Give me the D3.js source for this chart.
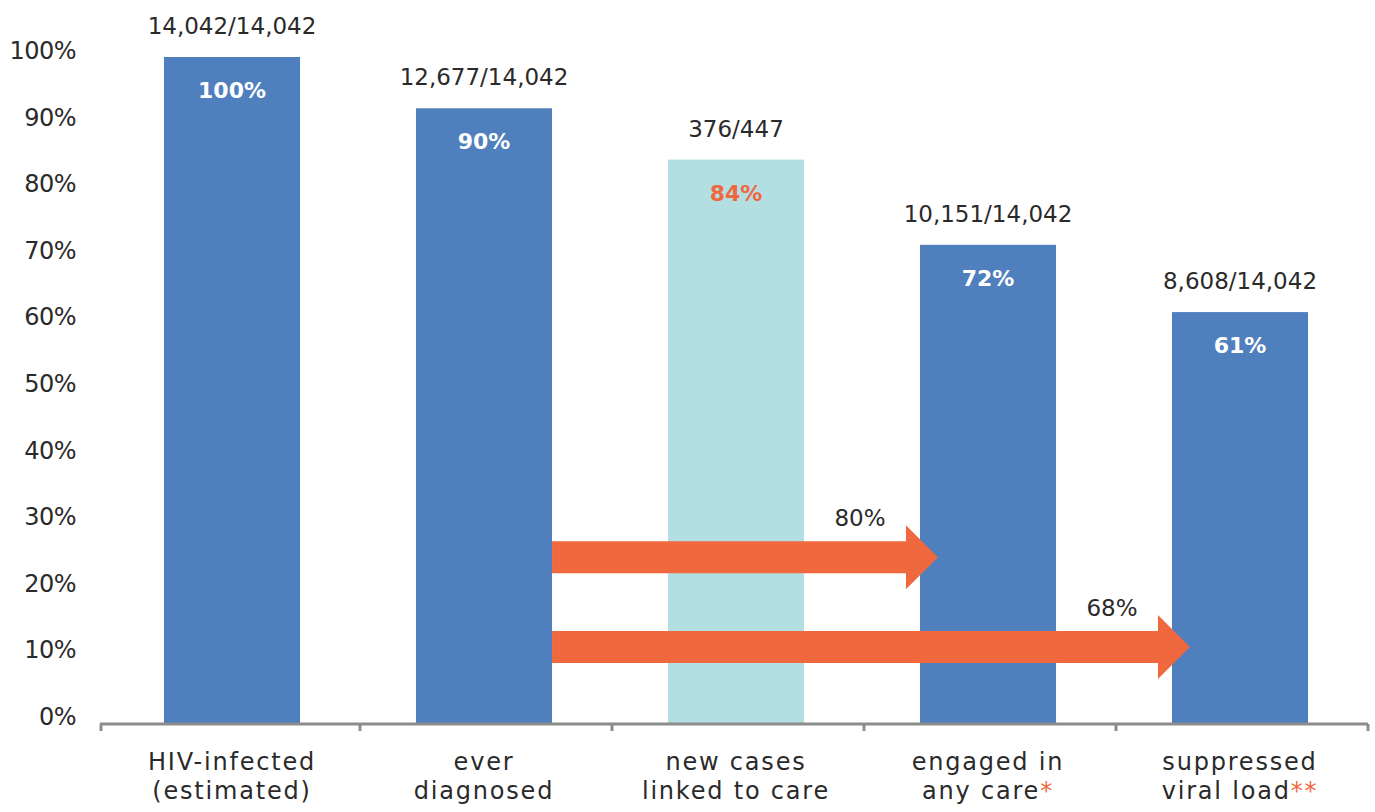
<!DOCTYPE html>
<html>
<head>
<meta charset="utf-8">
<script src="https://cdn.jsdelivr.net/npm/d3@7"></script>
<style>
  body { margin: 0; background: #fff; }
  svg text { font-family: "DejaVu Sans", sans-serif; }
</style>
</head>
<body>
<svg width="1375" height="812"></svg>
<script>
// categories, two lines each + optional orange asterisk
const categories = ['HIV-infected', 'ever', 'new cases', 'engaged in', 'suppressed'];
const secondLines = ['(estimated)', 'diagnosed', 'linked to care', 'any care', 'viral load'];
const stars = ['', '', '', '*', '**'];
// bar heights as drawn (percent)
const barValues = [100, 92.3, 84.6, 71.8, 61.7];
const pctLabels = ['100%', '90%', '84%', '72%', '61%'];
const countLabels = ['14,042/14,042', '12,677/14,042', '376/447', '10,151/14,042', '8,608/14,042'];
const highlight = [false, false, true, false, false];
const yTicks = [0, 10, 20, 30, 40, 50, 60, 70, 80, 90, 100];
// arrows from "ever diagnosed" to later steps
const arrowTargets = [3, 4];
const arrowLevels = [24.9, 11.4];
const arrowLabels = ['80%', '68%'];

const blue = '#4f80bd', lightBlue = '#b3dfe3', orange = '#f0683e';
const textCol = '#2a2a2a';

const svg = d3.select('svg');

const x = d3.scaleBand()
    .domain(d3.range(categories.length))
    .range([106, 1366])
    .paddingInner(0.46)
    .paddingOuter(0.23);

const y = d3.scaleLinear().domain([0, 100]).range([723, 57]);

// y tick labels (no axis line in the original)
svg.append('g')
  .selectAll('text')
  .data(yTicks)
  .enter()
  .append('text')
    .attr('x', 76)
    .attr('y', d => y(d) + 2)
    .attr('text-anchor', 'end')
    .style('font-size', '24px')
    .style('letter-spacing', '-0.5px')
    .style('fill', textCol)
    .text(d => d + '%');

// bars
svg.append('g')
  .selectAll('rect')
  .data(barValues)
  .enter()
  .append('rect')
    .attr('x', (d, i) => x(i))
    .attr('y', d => y(d))
    .attr('width', x.bandwidth())
    .attr('height', d => y(0) - y(d))
    .attr('fill', (d, i) => highlight[i] ? lightBlue : blue);

// count labels above bars
svg.append('g')
  .selectAll('text')
  .data(countLabels)
  .enter()
  .append('text')
    .attr('x', (d, i) => x(i) + x.bandwidth() / 2)
    .attr('y', (d, i) => y(barValues[i]) - 23)
    .attr('text-anchor', 'middle')
    .style('font-size', '23px')
    .style('fill', textCol)
    .text(d => d);

// percent labels inside bars
svg.append('g')
  .selectAll('text')
  .data(pctLabels)
  .enter()
  .append('text')
    .attr('x', (d, i) => x(i) + x.bandwidth() / 2)
    .attr('y', (d, i) => y(barValues[i]) + 41)
    .attr('text-anchor', 'middle')
    .style('font-size', '22px')
    .style('font-weight', 'bold')
    .style('fill', (d, i) => highlight[i] ? orange : '#fff')
    .text(d => d);

// x axis line with tick marks at band edges
const axis = svg.append('g').attr('class', 'x-axis');
axis.append('line')
    .attr('x1', 100).attr('x2', 1368)
    .attr('y1', 724).attr('y2', 724)
    .attr('stroke', '#8c8c8c')
    .attr('stroke-width', 3);
const step = x.step();
const edges = d3.range(categories.length + 1).map(i => i == 0 ? 101 : 106 + i * step + 2);
axis.selectAll('.tick')
  .data(edges)
  .enter()
  .append('line')
    .attr('x1', d => d).attr('x2', d => d)
    .attr('y1', 724).attr('y2', 731)
    .attr('stroke', '#8c8c8c')
    .attr('stroke-width', 3);

// category labels
const cat = svg.append('g')
  .selectAll('text')
  .data(categories)
  .enter()
  .append('text')
    .attr('text-anchor', 'middle')
    .style('font-size', '24px')
    .style('letter-spacing', '1.8px')
    .style('fill', textCol);
cat.append('tspan')
    .attr('x', (d, i) => x(i) + x.bandwidth() / 2)
    .attr('y', 770)
    .text(d => d);
cat.append('tspan')
    .attr('x', (d, i) => x(i) + x.bandwidth() / 2)
    .attr('y', 799)
    .text((d, i) => secondLines[i]);
cat.append('tspan')
    .style('fill', orange)
    .text((d, i) => stars[i]);

// arrows
const startX = x(1) + x.bandwidth();
const bodyH = 32, headH = 64, headL = 32;
const arrows = svg.append('g');
arrowTargets.forEach((t, i) => {
    const tipX = x(t) + 18;
    const cy = y(arrowLevels[i]);
    const baseX = tipX - headL;
    const pts = [
        [startX, cy - bodyH / 2], [baseX, cy - bodyH / 2], [baseX, cy - headH / 2],
        [tipX, cy], [baseX, cy + headH / 2], [baseX, cy + bodyH / 2], [startX, cy + bodyH / 2]
    ];
    arrows.append('path')
        .attr('d', d3.line()(pts) + 'Z')
        .attr('fill', orange);
    arrows.append('text')
        .attr('x', baseX - 46)
        .attr('y', cy - 31)
        .attr('text-anchor', 'middle')
        .style('font-size', '23px')
        .style('fill', textCol)
        .text(arrowLabels[i]);
});
</script>
</body>
</html>
